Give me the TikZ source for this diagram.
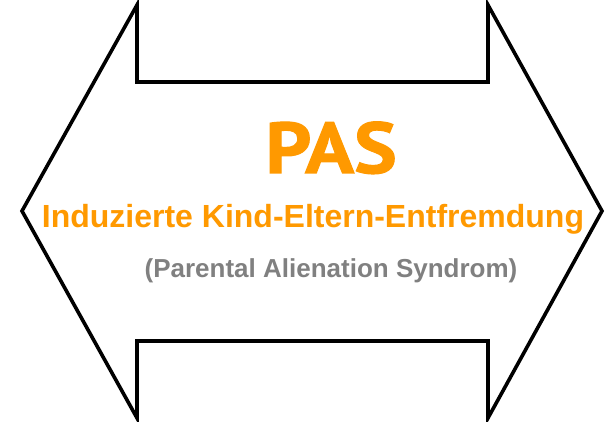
\documentclass[tikz,border=0pt]{standalone}
\usepackage{fontspec}
\setmainfont{Liberation Sans}
\newfontfamily\pasfont[FakeStretch=1.12, FakeBold=1.5]{PT Sans}
\usetikzlibrary{positioning}
\definecolor{pasorange}{HTML}{FF9900}
\definecolor{pasgray}{HTML}{808080}

\begin{document}
\begin{tikzpicture}[x=1pt, y=-1pt, outline/.style={draw=black, line width=3.6pt, line join=miter}, title/.style={text=pasorange, font=\pasfont\bfseries\fontsize{72}{80}\selectfont, inner sep=0pt, anchor=base}, subtitle/.style={text=pasorange, font=\bfseries\fontsize{32}{38}\selectfont, inner sep=0pt, anchor=base}, note/.style={text=pasgray, font=\bfseries\fontsize{26}{30}\selectfont, inner sep=0pt, anchor=base}]
    \useasboundingbox (0,0) rectangle (614,422);

    %Outline
    \draw[outline] (22,211) -- (137,5) -- (137,82) -- (488,82) -- (488,5) -- (602,211) -- (488,418) -- (488,341) -- (137,341) -- (137,418) -- cycle;

    %Nodes
    \node[title](pas) at (331,173){PAS};
    \node[subtitle](german) at (313,228){Induzierte Kind-Eltern-Entfremdung};
    \node[note](english) at (331,278){(Parental Alienation Syndrom)};

\end{tikzpicture}
\end{document}
